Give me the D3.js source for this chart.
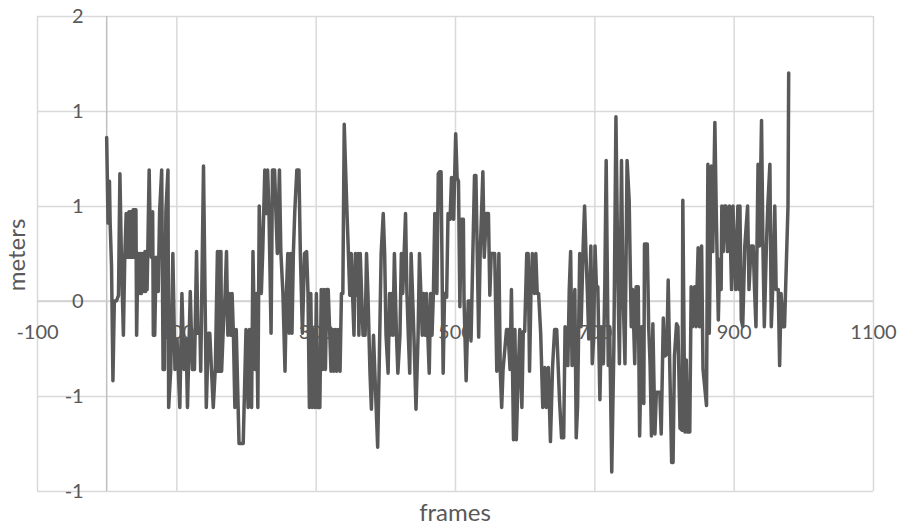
<!DOCTYPE html>
<html>
<head>
<meta charset="utf-8">
<script src="https://cdn.jsdelivr.net/npm/d3@7"></script>
<style>
  body { margin: 0; background: #fff; }
  svg text { font-family: Lato, "Open Sans", sans-serif; fill: #595959; }
</style>
</head>
<body>
<svg id="chart" width="899" height="526"></svg>
<script>
// frame numbers (x values)
const frames = [
  0,2,4,5,7,9,11,14,17,19,21,24,26,28,29,30,31,32,33,34,35,36,37,38,39,40,41,42,43,45,46,47,48,49,50,51,52,53,54,55,56,57,58,59,
  61,62,64,66,67,69,71,74,76,79,81,83,85,88,89,92,95,98,101,105,108,111,114,116,120,123,126,129,131,134,135,139,142,143,146,148,153,156,159,160,
  162,163,164,165,167,170,172,174,176,178,180,182,184,186,190,196,200,203,205,206,208,210,213,215,217,219,222,224,227,229,231,233,234,236,238,241,243,245,248,250,253,256,258,260,262,
  264,266,268,270,273,276,278,281,284,287,289,291,293,295,297,299,301,303,306,308,310,312,314,316,318,320,322,324,326,328,330,332,335,337,339,341,343,345,347,349,351,353,355,357,359,361,362,364,366,368,
  371,373,375,378,380,383,385,389,391,394,397,399,401,404,406,407,409,411,413,416,418,421,423,425,429,431,433,435,437,439,441,444,447,449,451,453,455,457,459,461,463,465,467,469,471,474,476,
  478,480,483,485,488,490,493,495,498,501,503,505,507,509,512,513,516,519,521,523,528,530,534,536,540,542,545,548,550,552,557,560,563,565,567,569,574,576,579,581,584,
  586,588,591,593,596,598,600,603,605,607,609,611,614,616,618,620,623,626,629,631,634,637,640,643,646,650,653,656,658,660,662,664,666,668,672,674,676,679,681,684,686,688,690,692,
  695,697,699,701,703,705,708,710,713,715,717,720,722,725,728,731,734,736,739,741,744,747,750,752,753,755,758,760,763,765,768,771,772,776,778,780,782,784,787,789,794,796,799,
  801,804,806,808,811,813,815,818,820,823,826,827,830,832,834,837,839,841,844,846,849,851,854,856,861,863,865,868,870,873,875,878,880,882,883,885,887,889,891,894,897,899,901,903,906,
  908,909,911,913,916,920,922,925,928,930,932,935,937,940,942,944,947,949,952,954,956,959,961,964,966,968,971,973,978,979
];

// position in meters at each of those frames
const meters = [
  0.86,0.41,0.63,0.41,0.18,-0.42,0.0,0.0,0.03,0.67,0.26,-0.18,0.23,0.46,0.23,0.46,0.23,0.47,0.23,0.47,0.23,0.47,0.23,0.48,0.23,0.48,0.24,0.48,-0.18,0.25,0.04,0.25,0.04,0.25,0.04,0.25,0.05,0.25,0.05,0.26,0.05,0.26,0.06,0.26,
  0.69,0.47,0.23,0.47,-0.18,-0.18,0.23,0.05,0.47,0.69,-0.36,-0.36,0.47,0.69,-0.56,-0.36,0.25,-0.36,-0.2,-0.56,0.04,-0.36,-0.2,-0.56,0.05,-0.36,-0.36,0.26,-0.17,-0.17,-0.37,0.71,-0.2,-0.56,-0.17,-0.17,-0.56,-0.35,0.26,-0.37,
  0.26,-0.37,0.26,-0.37,-0.18,0.04,0.26,-0.18,0.04,-0.18,0.04,-0.18,-0.56,-0.15,-0.75,-0.75,-0.15,-0.56,-0.15,-0.36,-0.56,0.26,-0.36,0.04,-0.56,0.50,0.04,0.26,0.69,0.46,0.69,0.46,0.25,-0.17,0.69,0.69,0.46,0.25,0.69,0.26,0.04,-0.37,0.04,0.25,-0.17,
  0.25,-0.17,0.25,0.47,0.69,0.69,0.25,-0.17,0.25,0.26,0.04,-0.56,0.04,-0.56,-0.15,-0.56,0.04,-0.56,-0.56,0.06,-0.36,0.06,-0.36,0.06,0.06,-0.15,-0.37,-0.15,-0.37,-0.15,-0.37,-0.15,-0.37,0.04,0.04,0.93,0.69,0.46,0.25,0.03,0.25,0.03,-0.18,0.25,0.03,0.25,-0.18,0.25,0.03,-0.18,
  -0.18,0.25,0.04,-0.38,-0.57,-0.18,-0.38,-0.77,-0.38,0.25,0.46,0.25,-0.18,-0.38,0.04,-0.18,0.04,-0.18,0.25,-0.18,-0.38,-0.18,0.25,0.04,0.46,0.04,-0.18,-0.38,0.25,0.04,-0.18,-0.57,-0.18,0.25,0.04,-0.18,0.04,-0.18,0.04,-0.18,-0.38,0.04,-0.18,0.04,0.46,0.04,0.67,
  0.68,0.68,-0.38,0.04,0.02,0.46,0.43,0.65,0.43,0.88,0.65,0.63,-0.03,0.43,0.43,0.0,-0.42,0.0,0.0,-0.21,0.66,0.66,-0.19,0.23,0.68,0.23,0.46,0.46,0.03,0.25,0.25,-0.37,0.25,-0.37,-0.56,-0.36,-0.15,-0.15,-0.36,0.06,-0.73,
  -0.15,-0.73,-0.35,-0.15,-0.56,-0.16,-0.16,0.25,0.25,-0.37,0.04,0.25,0.04,0.25,0.04,0.04,-0.17,-0.56,-0.35,-0.56,-0.35,-0.74,-0.35,-0.15,-0.15,-0.52,-0.72,-0.72,-0.135,-0.15,-0.34,0.06,0.26,-0.34,0.06,-0.72,-0.55,0.25,-0.135,0.29,0.50,0.25,0.05,-0.2,
  0.29,-0.33,-0.2,0.29,0.075,0.075,-0.52,-0.135,-0.33,0.075,0.74,-0.34,-0.135,-0.90,-0.25,0.97,0.075,-0.33,0.74,0.075,-0.33,0.74,0.53,0.075,-0.135,0.06,-0.33,0.075,0.075,-0.71,-0.135,-0.54,0.30,0.30,-0.135,-0.33,-0.71,-0.12,-0.70,-0.48,-0.48,-0.70,-0.09,
  -0.29,-0.28,0.11,-0.29,-0.85,-0.85,-0.29,-0.12,-0.135,-0.67,-0.68,0.53,-0.69,-0.31,-0.69,-0.69,0.075,-0.135,0.075,-0.135,0.28,-0.135,0.29,-0.36,-0.55,0.72,-0.17,0.71,0.26,0.94,0.47,-0.1,0.22,0.06,0.50,0.26,0.50,0.50,0.26,0.50,0.06,0.50,0.26,0.06,0.50,
  0.06,0.50,-0.1,-0.135,0.29,0.50,0.06,0.29,0.29,0.06,-0.135,0.72,0.29,0.95,0.29,-0.135,0.29,0.50,0.72,-0.135,0.06,0.50,0.06,0.06,-0.34,0.04,-0.135,-0.135,0.50,1.2
];

const xTicks = [-100, 100, 300, 500, 700, 900, 1100];
const yTicks = [-1, -0.5, 0, 0.5, 1, 1.5];
const yTickLabels = ["-1", "-1", "0", "1", "1", "2"];

const svg = d3.select("#chart");

const x = d3.scaleLinear().domain([-100, 1100]).range([37, 873]);
const y = d3.scaleLinear().domain([-1, 1.5]).range([491, 16]);

// horizontal gridlines
svg.append("g")
    .attr("transform", `translate(${x(-100)},0)`)
    .call(d3.axisLeft(y).tickValues(yTicks).tickSize(-(x(1100) - x(-100))).tickFormat(""))
    .call(g => g.select(".domain").remove())
    .call(g => g.selectAll("line").attr("stroke", "#d9d9d9").attr("stroke-width", 1.5));

// vertical gridlines
svg.append("g")
    .attr("transform", `translate(0,${y(-1)})`)
    .call(d3.axisBottom(x).tickValues(xTicks).tickSize(-(y(-1) - y(1.5))).tickFormat(""))
    .call(g => g.select(".domain").remove())
    .call(g => g.selectAll("line").attr("stroke", "#d9d9d9").attr("stroke-width", 1.5));

// axis lines crossing at 0
svg.append("line")
    .attr("x1", x(0)).attr("x2", x(0))
    .attr("y1", y(-1)).attr("y2", y(1.5))
    .attr("stroke", "#bfbfbf").attr("stroke-width", 1.5);
svg.append("line")
    .attr("x1", x(-100)).attr("x2", x(1100))
    .attr("y1", y(0)).attr("y2", y(0))
    .attr("stroke", "#d0d0d0").attr("stroke-width", 1.5);

// y labels, sitting left of the x=0 axis
svg.append("g")
    .attr("transform", `translate(${x(0)},0)`)
    .call(d3.axisLeft(y).tickValues(yTicks).tickSize(0).tickPadding(23)
        .tickFormat((d, i) => yTickLabels[i]))
    .call(g => g.select(".domain").remove())
    .call(g => g.selectAll("text").style("font-size", "20px").attr("fill", "#595959"));

// x labels, under the y=0 axis
svg.append("g")
    .attr("transform", `translate(0,${y(0)})`)
    .call(d3.axisBottom(x).tickValues(xTicks).tickSize(0).tickPadding(24)
        .tickFormat(d => String(d)))
    .call(g => g.select(".domain").remove())
    .call(g => g.selectAll("text").style("font-size", "20px").attr("fill", "#595959"));

// the series
const pts = frames.map((f, i) => [f, meters[i]]);
svg.append("path")
    .datum(pts)
    .attr("fill", "none")
    .attr("stroke", "#595959")
    .attr("stroke-width", 3.5)
    .attr("stroke-linejoin", "round")
    .attr("stroke-linecap", "round")
    .attr("d", d3.line().x(d => x(d[0])).y(d => y(d[1])));

// axis titles
svg.append("text")
    .attr("x", 455).attr("y", 521)
    .attr("text-anchor", "middle")
    .style("font-size", "24px")
    .text("frames");

svg.append("text")
    .attr("transform", "translate(25,255) rotate(-90)")
    .attr("text-anchor", "middle")
    .style("font-size", "24px")
    .text("meters");
</script>
</body>
</html>
